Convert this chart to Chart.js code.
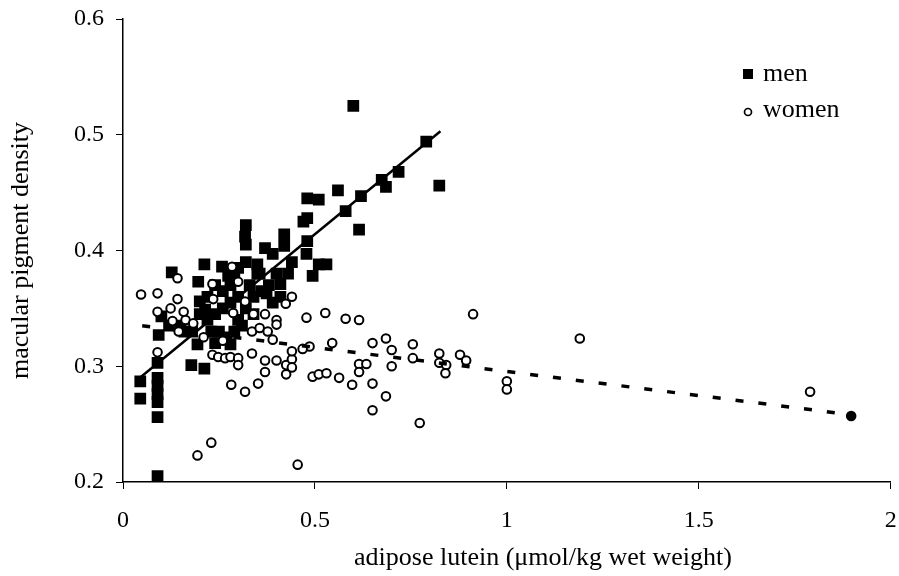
<!DOCTYPE html>
<html lang="en">
<head>
    <meta charset="UTF-8">
    <title>Macular pigment density vs adipose lutein</title>
    <script src="https://cdn.jsdelivr.net/npm/chart.js"></script>
    <style>
        body {
            margin: 0;
            background: white;
        }
        canvas {
            display: block;
        }
    </style>
</head>
<body>
    <canvas id="mpdChart" width="899" height="576"></canvas>

    <script>
        // men: adipose lutein (x) and macular pigment density (y)
        const menLutein = [0.045, 0.045, 0.09, 0.09, 0.09, 0.09, 0.09, 0.09, 0.09, 0.093, 0.10,
            0.127, 0.12, 0.15, 0.16, 0.178, 0.212, 0.194, 0.24, 0.28,
            0.196, 0.212, 0.258, 0.274, 0.20, 0.214, 0.318, 0.32, 0.32,
            0.22, 0.24, 0.26, 0.28, 0.30, 0.23, 0.25, 0.27, 0.29, 0.31,
            0.20, 0.18, 0.22, 0.24, 0.26, 0.28, 0.30, 0.29, 0.33, 0.34, 0.36, 0.32, 0.34, 0.30, 0.35,
            0.42, 0.48, 0.615, 0.37, 0.42, 0.39, 0.478, 0.51, 0.53, 0.494, 0.35, 0.356, 0.32, 0.40,
            0.41, 0.374, 0.41, 0.38, 0.39, 0.44, 0.43,
            0.47, 0.48, 0.48, 0.51, 0.56, 0.58, 0.62, 0.60, 0.674, 0.685, 0.718, 0.79, 0.824];
        const menMPD = [0.287, 0.272, 0.303, 0.290, 0.283, 0.276, 0.269, 0.256, 0.205, 0.327, 0.343,
            0.381, 0.335, 0.335, 0.330, 0.301, 0.298, 0.319, 0.320, 0.319,
            0.373, 0.388, 0.386, 0.378, 0.356, 0.349, 0.412, 0.422, 0.405,
            0.340, 0.345, 0.350, 0.355, 0.360, 0.330, 0.330, 0.325, 0.330, 0.335,
            0.345, 0.330, 0.360, 0.370, 0.365, 0.370, 0.385, 0.380, 0.370, 0.360, 0.365, 0.350, 0.345, 0.340, 0.380,
            0.414, 0.408, 0.418, 0.402, 0.404, 0.397, 0.397, 0.388, 0.388, 0.378, 0.388, 0.380, 0.390, 0.380,
            0.371, 0.363, 0.360, 0.370, 0.355, 0.390, 0.380,
            0.425, 0.428, 0.445, 0.444, 0.452, 0.434, 0.447, 0.525, 0.461, 0.455, 0.468, 0.494, 0.456];

        // women
        const womenLutein = [0.047, 0.09, 0.142, 0.142, 0.124, 0.09, 0.158, 0.129, 0.163, 0.183, 0.145,
            0.233, 0.235, 0.284, 0.30, 0.318, 0.287,
            0.09, 0.233, 0.248, 0.266, 0.28, 0.30, 0.30, 0.336, 0.282, 0.318, 0.23, 0.194,
            0.21, 0.26,
            0.44, 0.424, 0.34, 0.37, 0.40, 0.40, 0.478, 0.527, 0.58, 0.615, 0.545, 0.65,
            0.336, 0.356, 0.377, 0.39, 0.486, 0.468,
            0.37, 0.37, 0.40, 0.425, 0.44, 0.44, 0.425, 0.44, 0.352, 0.494, 0.51, 0.53, 0.563,
            0.597, 0.65, 0.65, 0.615, 0.615, 0.634, 0.455,
            0.912, 0.685, 0.70, 0.755, 0.755, 0.70, 0.824, 0.824, 0.842, 0.84, 0.878, 0.894,
            0.685, 0.773, 1.0, 1.0, 1.19, 1.79, 1.897];
        const womenMPD = [0.362, 0.363, 0.376, 0.358, 0.350, 0.347, 0.347, 0.339, 0.340, 0.337, 0.330,
            0.371, 0.358, 0.386, 0.373, 0.356, 0.346,
            0.312, 0.310, 0.308, 0.307, 0.308, 0.307, 0.301, 0.311, 0.284, 0.278, 0.234, 0.223,
            0.325, 0.322,
            0.360, 0.354, 0.345, 0.345, 0.340, 0.336, 0.342, 0.346, 0.341, 0.340, 0.320, 0.320,
            0.330, 0.333, 0.330, 0.323, 0.317, 0.315,
            0.305, 0.295, 0.305, 0.301, 0.306, 0.299, 0.293, 0.313, 0.285, 0.291, 0.293, 0.294, 0.290,
            0.284, 0.285, 0.262, 0.302, 0.295, 0.302, 0.215,
            0.345, 0.324, 0.314, 0.319, 0.307, 0.300, 0.311, 0.303, 0.301, 0.294, 0.310, 0.305,
            0.274, 0.251, 0.287, 0.280, 0.324, 0.278, 0.257];

        // regression lines (end points)
        const menFitX = [0.044, 0.827];
        const menFitY = [0.290, 0.503];
        const womenFitX = [0.05, 1.9];
        const womenFitY = [0.335, 0.258];

        const xTicks = [0, 0.5, 1, 1.5, 2];
        const xTickLabels = ['0', '0.5', '1', '1.5', '2'];
        const yTicks = [0.2, 0.3, 0.4, 0.5, 0.6];
        const yTickLabels = ['0.2', '0.3', '0.4', '0.5', '0.6'];

        function pairs(xs, ys) {
            return xs.map((x, i) => ({ x: x, y: ys[i] }));
        }

        const serif = '"Liberation Serif", "Times New Roman", serif';

        // legend in the top right corner and the x axis title (sits a bit right of centre)
        const extraText = {
            id: 'extraText',
            afterDraw(chart) {
                const ctx = chart.ctx;
                ctx.save();
                ctx.fillStyle = '#000';
                ctx.fillRect(743, 69, 10, 10);
                ctx.beginPath();
                ctx.arc(748, 112, 3.5, 0, 2 * Math.PI);
                ctx.lineWidth = 1.7;
                ctx.strokeStyle = '#000';
                ctx.stroke();
                ctx.font = '26px ' + serif;
                ctx.textBaseline = 'middle';
                ctx.fillText('men', 763, 74);
                ctx.fillText('women', 763, 110);

                ctx.textAlign = 'center';
                ctx.fillText('adipose lutein (\u03bcmol/kg wet weight)', 543, 558);
                ctx.restore();
            }
        };

        const ctx = document.getElementById('mpdChart').getContext('2d');
        new Chart(ctx, {
            type: 'scatter',
            data: {
                datasets: [
                    {
                        label: 'men fit',
                        data: pairs(menFitX, menFitY),
                        showLine: true,
                        borderColor: '#000',
                        borderWidth: 2.5,
                        pointRadius: 0
                    },
                    {
                        label: 'women fit',
                        data: pairs(womenFitX, womenFitY),
                        showLine: true,
                        borderColor: '#000',
                        borderWidth: 3.5,
                        borderDash: [8, 15],
                        pointRadius: 0
                    },
                    {
                        label: 'women',
                        data: pairs(womenLutein, womenMPD),
                        pointStyle: 'circle',
                        pointRadius: 4.3,
                        borderWidth: 2,
                        borderColor: '#000',
                        backgroundColor: c => (c.raw && c.raw.x > 1.85 ? '#000' : '#fff')
                    },
                    {
                        label: 'men',
                        data: pairs(menLutein, menMPD),
                        pointStyle: 'rect',
                        pointRadius: 8.3,
                        borderWidth: 0,
                        borderColor: '#000',
                        backgroundColor: '#000'
                    }
                ]
            },
            options: {
                responsive: false,
                animation: false,
                devicePixelRatio: 1,
                layout: { padding: { top: 19, right: 4, left: 0, bottom: 0 } },
                plugins: {
                    legend: { display: false },
                    tooltip: { enabled: false }
                },
                scales: {
                    x: {
                        type: 'linear',
                        min: 0,
                        max: 2,
                        afterBuildTicks: s => { s.ticks = xTicks.map(v => ({ value: v })); },
                        afterFit: s => { s.height = 94; s.paddingLeft = 0; s.paddingRight = 0; },
                        ticks: {
                            color: '#000',
                            font: { family: serif, size: 24 },
                            padding: 17,
                            maxRotation: 0,
                            callback: (v, i) => xTickLabels[i]
                        },
                        grid: {
                            drawOnChartArea: false,
                            tickLength: 7,
                            tickColor: '#000'
                        },
                        border: { color: '#000', width: 1.5 }
                    },
                    y: {
                        type: 'linear',
                        min: 0.2,
                        max: 0.6,
                        afterBuildTicks: s => { s.ticks = yTicks.map(v => ({ value: v })); },
                        afterFit: s => { s.width = 123; s.paddingTop = 0; s.paddingBottom = 0; },
                        ticks: {
                            color: '#000',
                            font: { family: serif, size: 24 },
                            padding: 12,
                            callback: (v, i) => yTickLabels[i]
                        },
                        grid: {
                            drawOnChartArea: false,
                            tickLength: 7,
                            tickColor: '#000'
                        },
                        border: { color: '#000', width: 1.5 },
                        title: {
                            display: true,
                            text: 'macular pigment density',
                            color: '#000',
                            font: { family: serif, size: 26 },
                            padding: { top: 6, bottom: 0 }
                        }
                    }
                }
            },
            plugins: [extraText]
        });
    </script>
</body>
</html>
